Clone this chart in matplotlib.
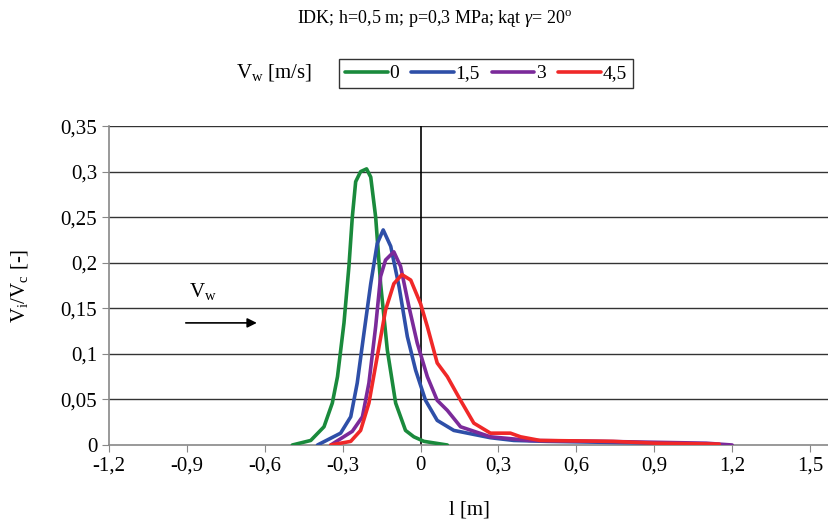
import matplotlib
matplotlib.use("Agg")
import matplotlib.pyplot as plt

plt.rcParams["font.family"] = ["Liberation Serif", "DejaVu Serif"]
plt.rcParams["mathtext.fontset"] = "custom"
plt.rcParams["mathtext.rm"] = "Liberation Serif"
plt.rcParams["mathtext.it"] = "Liberation Serif:italic"

# V_w = 0 m/s
x0 = [-0.494, -0.423, -0.372, -0.34, -0.32, -0.295, -0.276, -0.263, -0.25, -0.231, -0.208,
      -0.192, -0.173, -0.154, -0.128, -0.096, -0.058, -0.026, 0.013, 0.103]
y0 = [0.0, 0.005, 0.020, 0.046, 0.075, 0.134, 0.196, 0.250, 0.289, 0.300, 0.303,
      0.294, 0.250, 0.177, 0.104, 0.046, 0.016, 0.009, 0.004, 0.0]

# V_w = 1,5 m/s
x1 = [-0.397, -0.308, -0.269, -0.244, -0.218, -0.192, -0.167, -0.144, -0.115, -0.083, -0.051,
      -0.019, 0.019, 0.064, 0.128, 0.269, 0.359, 0.487, 0.7, 0.9, 1.1]
y1 = [0.0, 0.013, 0.031, 0.068, 0.123, 0.177, 0.221, 0.236, 0.218, 0.174, 0.119,
      0.082, 0.049, 0.027, 0.016, 0.008, 0.005, 0.004, 0.003, 0.002, 0.0]

# V_w = 3 m/s
x2 = [-0.346, -0.263, -0.224, -0.199, -0.173, -0.154, -0.135, -0.103, -0.077, -0.045, -0.013,
      0.026, 0.064, 0.103, 0.154, 0.269, 0.42, 0.7, 0.9, 1.1, 1.2]
y2 = [0.0, 0.015, 0.031, 0.068, 0.130, 0.185, 0.203, 0.212, 0.196, 0.152, 0.112,
      0.075, 0.049, 0.038, 0.020, 0.009, 0.005, 0.004, 0.003, 0.002, 0.0]

# V_w = 4,5 m/s
x3 = [-0.346, -0.269, -0.231, -0.199, -0.167, -0.135, -0.103, -0.072, -0.038, 0.0, 0.026,
      0.064, 0.103, 0.154, 0.205, 0.269, 0.346, 0.385, 0.46, 0.74, 0.9, 1.15]
y3 = [0.0, 0.004, 0.016, 0.046, 0.097, 0.148, 0.177, 0.187, 0.181, 0.155, 0.130,
      0.090, 0.075, 0.049, 0.024, 0.013, 0.013, 0.009, 0.005, 0.004, 0.002, 0.001]

series = [(x0, y0, "0", "#1a8a3c"), (x1, y1, "1,5", "#2e4fa8"),
          (x2, y2, "3", "#7b2a9a"), (x3, y3, "4,5", "#f02828")]

fig = plt.figure(figsize=(8.29, 5.22), dpi=100)
ax = fig.add_axes([0.1315, 0.1475, 0.8685, 0.611])

for y in [0.05, 0.1, 0.15, 0.2, 0.25, 0.3, 0.35]:
    ax.axhline(y, color="#333333", lw=1.0, zorder=1)
ax.plot([0, 0], [0, 0.35], color="black", lw=1.2, zorder=2)

handles = []
for xs, ys, lab, col in series:
    h, = ax.plot(xs, ys, color=col, lw=2.6, solid_joinstyle="round",
                 solid_capstyle="round", label=lab, zorder=3)
    handles.append(h)

ax.set_xlim(-1.2, 1.573)
ax.set_ylim(0, 0.35)
xt = [-1.2, -0.9, -0.6, -0.3, 0, 0.3, 0.6, 0.9, 1.2, 1.5]
ax.set_xticks(xt)
ax.set_xticklabels(["-1,2", "-0,9", "-0,6", "-0,3", "0", "0,3", "0,6", "0,9", "1,2", "1,5"])
yt = [0, 0.05, 0.1, 0.15, 0.2, 0.25, 0.3, 0.35]
ax.set_yticks(yt)
ax.set_yticklabels(["0", "0,05", "0,1", "0,15", "0,2", "0,25", "0,3", "0,35"])
ax.tick_params(axis="both", labelsize=15, direction="out", length=5, color="#888888")
ax.tick_params(axis="x", pad=3)
for s in ["top", "right"]:
    ax.spines[s].set_visible(False)
ax.spines["left"].set_color("#888888")
ax.spines["bottom"].set_color("#888888")
ax.spines["left"].set_linewidth(1.2)
ax.spines["bottom"].set_linewidth(1.2)

ax.set_xlabel("l [m]", fontsize=15, labelpad=18)
ax.set_ylabel(r"V$_{\mathrm{i}}$/V$_{\mathrm{c}}$ [-]", fontsize=15, labelpad=22)

ax.annotate("", xy=(-0.62, 0.134), xytext=(-0.915, 0.134),
            arrowprops=dict(arrowstyle="-|>", color="black", lw=1.2, mutation_scale=14))
ax.text(-0.84, 0.168, r"V$_{\mathrm{w}}$", fontsize=15, ha="center", va="center")

fig.text(0.524, 0.965, r"IDK; h=0,5 m; p=0,3 MPa; kąt $\mathit{\gamma}$= 20$^{\mathrm{o}}$",
         fontsize=13, ha="center", va="center")
fig.text(0.33, 0.862, r"V$_{\mathrm{w}}$ [m/s]", fontsize=15, ha="center", va="center")

leg = fig.legend(handles=handles, loc="center", bbox_to_anchor=(0.586, 0.859), ncol=4,
                 fontsize=14, frameon=True, fancybox=False, edgecolor="black",
                 handlelength=2.2, handletextpad=0.1, columnspacing=0.6,
                 borderpad=0.3)
leg.get_frame().set_linewidth(1.0)

fig.savefig("out.png", dpi=100)
